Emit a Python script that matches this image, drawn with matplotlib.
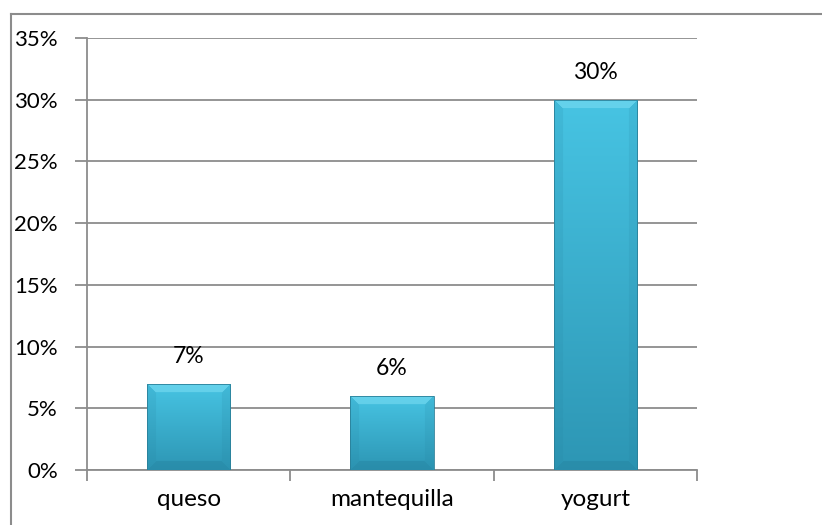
import numpy as np
import matplotlib
matplotlib.use("Agg")
import matplotlib.pyplot as plt
from matplotlib.ticker import FuncFormatter, MultipleLocator
from matplotlib.colors import to_rgb

categories = ["queso", "mantequilla", "yogurt"]
values = [0.07, 0.06, 0.30]
labels = ["7%", "6%", "30%"]

plt.rcParams['font.family'] = ['Lato', 'DejaVu Sans']

fig = plt.figure(figsize=(8.22, 5.25), dpi=100)
ax = fig.add_axes([87/822, 1-470/525, (697-87)/822, (470-38)/525])

grid_c = "#8c8c8c"
x = np.arange(len(categories))
width = 0.41
bars = ax.bar(x, values, width=width, color="#33a9c9", zorder=3)

ax.set_xlim(-0.5, len(categories) - 0.5)
ax.set_ylim(0, 0.35)
ax.yaxis.set_major_locator(MultipleLocator(0.05))
ax.yaxis.set_major_formatter(FuncFormatter(lambda v, p: f"{v*100:.0f}%"))
ax.grid(axis="y", color=grid_c, linewidth=1.3, zorder=0)
ax.set_axisbelow(True)
for s in ["top", "right"]:
    ax.spines[s].set_visible(False)
for s in ["left", "bottom"]:
    ax.spines[s].set_color(grid_c)
    ax.spines[s].set_linewidth(1.3)
ax.set_xticks(x)
ax.set_xticklabels(categories)
ax.set_xticks(np.arange(-0.5, len(categories)), minor=True)
ax.tick_params(axis="x", which="major", length=0, pad=14, labelsize=17.5)
ax.tick_params(axis="x", which="minor", length=8, width=1.3, color=grid_c, direction="out")
ax.tick_params(axis="y", length=9, width=1.3, color=grid_c, pad=12, labelsize=16)

# Bevel/gradient fill for each bar
top_c = np.array(to_rgb("#47c4e3"))
bot_c = np.array(to_rgb("#2d96b4"))
hi_c = np.array(to_rgb("#74d9f0"))
edge_c = np.array(to_rgb("#237f9c"))
px_per_unit_y = (470 - 38) / 0.35
px_per_unit_x = (697 - 87) / 3.0
for b in bars:
    x0, y0 = b.get_x(), b.get_y()
    w, h = b.get_width(), b.get_height()
    hp = max(int(h * px_per_unit_y), 2)
    wp = max(int(w * px_per_unit_x), 2)
    img = np.zeros((hp, wp, 3))
    t = np.linspace(0, 1, hp)[:, None]
    base = top_c[None, None, :] * (1 - t[..., None]) + bot_c[None, None, :] * t[..., None]
    img[:] = base
    bev = 9
    yy, xx = np.mgrid[0:hp, 0:wp]
    d_top = yy
    d_bot = hp - 1 - yy
    d_left = xx
    d_right = wp - 1 - xx
    m = (d_top < bev) & (d_top <= d_left) & (d_top <= d_right)
    img[m] = img[m] * 0.35 + hi_c * 0.65
    m = ((d_left < bev) & (d_left < d_top) & (d_left <= d_bot)) | ((d_right < bev) & (d_right < d_top) & (d_right <= d_bot))
    img[m] = img[m] * 0.85 + edge_c * 0.15
    m = (d_bot < bev) & (d_bot < d_left) & (d_bot < d_right)
    img[m] = img[m] * 0.6 + edge_c * 0.4
    im = ax.imshow(img, extent=[x0, x0 + w, y0, y0 + h], aspect="auto",
                   origin="upper", zorder=4, interpolation="bilinear")
    im.set_clip_path(b)
    b.set_facecolor("none")
    b.set_edgecolor("#2a7f98")
    b.set_linewidth(0.6)
    b.set_zorder(5)

for xi, v, lab in zip(x, values, labels):
    ax.annotate(lab, (xi, v), xytext=(0, 12), textcoords="offset points",
                ha="center", va="bottom", fontsize=16.5, color="black")

# outer border (top and left visible)
fig.add_artist(plt.Line2D([11/822, 1.0], [1-14/525, 1-14/525], color=grid_c, linewidth=1.5, transform=fig.transFigure))
fig.add_artist(plt.Line2D([11/822, 11/822], [0.0, 1-14/525], color=grid_c, linewidth=1.5, transform=fig.transFigure))

fig.savefig("out.png", dpi=100)
